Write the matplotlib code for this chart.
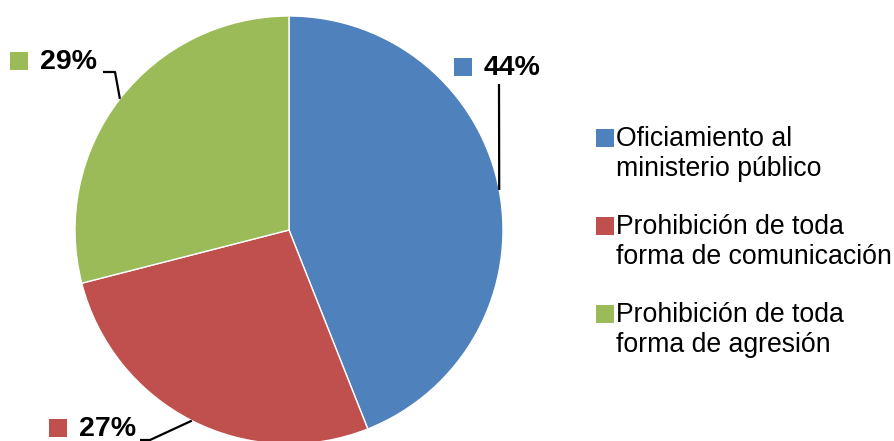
import numpy as np
import matplotlib.pyplot as plt

# Medidas adoptadas
categories = ['Oficiamiento al\nministerio público',
              'Prohibición de toda\nforma de comunicación',
              'Prohibición de toda\nforma de agresión']
values = [44, 27, 29]
colors = ['#4F81BD', '#C0504D', '#9BBB59']

W, H = 895, 441
plt.rcParams['font.family'] = ['Liberation Sans', 'DejaVu Sans']

fig = plt.figure(figsize=(W / 100, H / 100), dpi=100)
ax = fig.add_axes([0, 0, 1, 1])

cx, cy, r = 289, H - 230, 214
wedges, _ = ax.pie(values, colors=colors, startangle=90, counterclock=False,
                   radius=r, center=(cx, cy),
                   wedgeprops=dict(edgecolor='white', linewidth=1))
ax.set_xlim(0, W)
ax.set_ylim(0, H)
ax.set_aspect('equal')
ax.axis('off')

# label layout: marker position, text position, leader elbow (pixel coords, y from top)
label_pos = [
    dict(sq=(463, 67), txt=(484, 68), elbow=[(499, 84)]),
    dict(sq=(58, 428), txt=(79, 429), elbow=[(140, 440), (150, 440)]),
    dict(sq=(19, 61), txt=(40, 62), elbow=[(103, 72), (115, 72)]),
]

for w, v, c, lp in zip(wedges, values, colors, label_pos):
    mid = np.deg2rad((w.theta1 + w.theta2) / 2)
    ex, ey = cx + r * np.cos(mid), cy + r * np.sin(mid)
    pts = [(x, H - y) for x, y in lp['elbow']] + [(ex, ey)]
    xs, ys = zip(*pts)
    ax.plot(xs, ys, color='black', lw=1.6, solid_capstyle='butt')
    sx, sy = lp['sq']
    ax.scatter([sx], [H - sy], marker='s', s=150, color=c, linewidths=0)
    tx, ty = lp['txt']
    ax.text(tx, H - ty, f'{v}%', fontsize=20.5, fontweight='bold',
            ha='left', va='center')

# legend
for i, (cat, c) in enumerate(zip(categories, colors)):
    y0 = 138 + 88 * i
    ax.scatter([605], [H - y0], marker='s', s=150, color=c, linewidths=0)
    ax.text(616, H - y0 + 12, cat, fontsize=19.2, ha='left', va='top',
            linespacing=1.21)

fig.savefig('out.png', dpi=100)
